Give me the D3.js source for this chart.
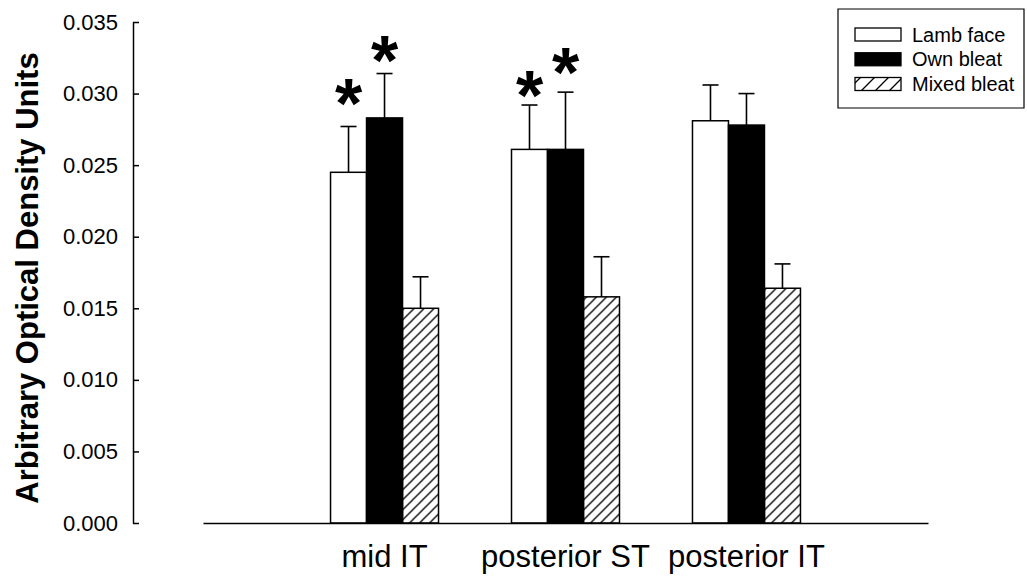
<!DOCTYPE html>
<meta charset="utf-8">
<script src="https://cdn.jsdelivr.net/npm/d3@7"></script>
<style>
body { margin: 0; background: #fff; }
svg { font-family: "Liberation Sans", Arial, Helvetica, sans-serif; }
.axis path, .axis line { fill: none; stroke: #000; stroke-width: 1.5px; }
.axis--y text { font-size: 22px; fill: #000; }
.axis--x text { font-size: 31px; fill: #000; }
.y-title { font-size: 31px; font-weight: bold; }
.err { stroke: #000; stroke-width: 1.6px; fill: none; }
.star { font-size: 70px; font-weight: bold; text-anchor: middle; }
.legend text { font-size: 20px; }
</style>
<body>
<div id="chart"></div>
<script>
var categories = ["mid IT", "posterior ST", "posterior IT"];
var seriesNames = ["Lamb face", "Own bleat", "Mixed bleat"];

var lambFace = [0.0245, 0.0261, 0.0281];
var ownBleat = [0.0283, 0.0261, 0.0278];
var mixedBleat = [0.0150, 0.0158, 0.0164];

var lambFaceErr = [0.0032, 0.0031, 0.0025];
var ownBleatErr = [0.0031, 0.0040, 0.0022];
var mixedBleatErr = [0.0022, 0.0028, 0.0017];

var yTicks = [0, 0.005, 0.010, 0.015, 0.020, 0.025, 0.030, 0.035];

// significance markers: [category, series, height of the star in data units]
var stars = [
  ["mid IT", "Lamb face", 0.0300],
  ["mid IT", "Own bleat", 0.0330],
  ["posterior ST", "Lamb face", 0.0306],
  ["posterior ST", "Own bleat", 0.0322]
];

var width = 1027, height = 578;

var values = [lambFace, ownBleat, mixedBleat],
    errors = [lambFaceErr, ownBleatErr, mixedBleatErr];

var data = [];
categories.forEach(function(c, i) {
  seriesNames.forEach(function(s, j) {
    data.push({cat: c, series: s, value: values[j][i], err: errors[j][i]});
  });
});

var y = d3.scaleLinear().domain([0, 0.035]).range([523, 22]);
var x0 = d3.scaleBand().domain(categories).range([203, 928])
    .paddingInner(0.4033).paddingOuter(0.7047);
var x1 = d3.scaleBand().domain(seriesNames).range([0, x0.bandwidth()]);

var svg = d3.select("#chart").append("svg")
    .attr("width", width)
    .attr("height", height);

var defs = svg.append("defs");
function hatch(id, s) {
  defs.append("pattern")
      .attr("id", id)
      .attr("patternUnits", "userSpaceOnUse")
      .attr("width", s)
      .attr("height", s)
    .append("path")
      .attr("d", "M-1,1 l2,-2 M0," + s + " l" + s + ",-" + s + " M" + (s - 1) + "," + (s + 1) + " l2,-2")
      .attr("stroke", "#000")
      .attr("stroke-width", 1.3);
}
hatch("hatch", 10);
hatch("hatch-legend", 14);

var fills = {"Lamb face": "#fff", "Own bleat": "#000", "Mixed bleat": "url(#hatch)"};

// y axis
svg.append("g")
    .attr("class", "axis axis--y")
    .attr("transform", "translate(133,0)")
    .call(d3.axisLeft(y).tickValues(yTicks).tickFormat(d3.format(".3f"))
      .tickSizeInner(-6).tickSizeOuter(0).tickPadding(15));

svg.append("text")
    .attr("class", "y-title")
    .attr("transform", "rotate(-90)")
    .attr("x", -278)
    .attr("y", 38)
    .attr("text-anchor", "middle")
    .text("Arbitrary Optical Density Units");

// bars
var bw = x1.bandwidth();
var bars = svg.append("g").selectAll("g")
    .data(data)
  .enter().append("g")
    .attr("transform", function(d) { return "translate(" + (x0(d.cat) + x1(d.series)) + ",0)"; });

bars.append("rect")
    .attr("x", 0)
    .attr("y", function(d) { return y(d.value); })
    .attr("width", bw)
    .attr("height", function(d) { return y(0) - y(d.value); })
    .attr("fill", function(d) { return fills[d.series]; })
    .attr("stroke", "#000")
    .attr("stroke-width", 1.5);

bars.append("line")
    .attr("class", "err")
    .attr("x1", bw / 2).attr("x2", bw / 2)
    .attr("y1", function(d) { return y(d.value); })
    .attr("y2", function(d) { return y(d.value + d.err); });
bars.append("line")
    .attr("class", "err")
    .attr("x1", bw / 2 - 8).attr("x2", bw / 2 + 8)
    .attr("y1", function(d) { return y(d.value + d.err); })
    .attr("y2", function(d) { return y(d.value + d.err); });

// x axis
svg.append("g")
    .attr("class", "axis axis--x")
    .attr("transform", "translate(0," + y(0) + ")")
    .call(d3.axisBottom(x0).tickSize(0).tickPadding(22));

// stars
svg.append("g").selectAll("text")
    .data(stars)
  .enter().append("text")
    .attr("class", "star")
    .attr("x", function(d) { return x0(d[0]) + x1(d[1]) + bw / 2; })
    .attr("y", function(d) { return y(d[2]); })
    .attr("dy", "0.494em")
    .text("*");

// legend
var legend = svg.append("g").attr("class", "legend");
legend.append("path")
    .attr("d", "M838,9H1024V108H838Z")
    .attr("fill", "none")
    .attr("stroke", "#000")
    .attr("stroke-width", 1.2);

var ly = d3.scalePoint().domain(seriesNames).range([34.5, 84]);
var items = legend.selectAll("g.item")
    .data(seriesNames)
  .enter().append("g")
    .attr("class", "item")
    .attr("transform", function(d) { return "translate(0," + ly(d) + ")"; });
items.append("rect")
    .attr("x", 855).attr("y", -6.5)
    .attr("width", 46).attr("height", 13)
    .attr("fill", function(d) { return d === "Mixed bleat" ? "url(#hatch-legend)" : fills[d]; })
    .attr("stroke", "#000")
    .attr("stroke-width", 1.3);
items.append("text")
    .attr("x", 912)
    .attr("dy", "0.35em")
    .text(function(d) { return d; });
</script>
</body>
